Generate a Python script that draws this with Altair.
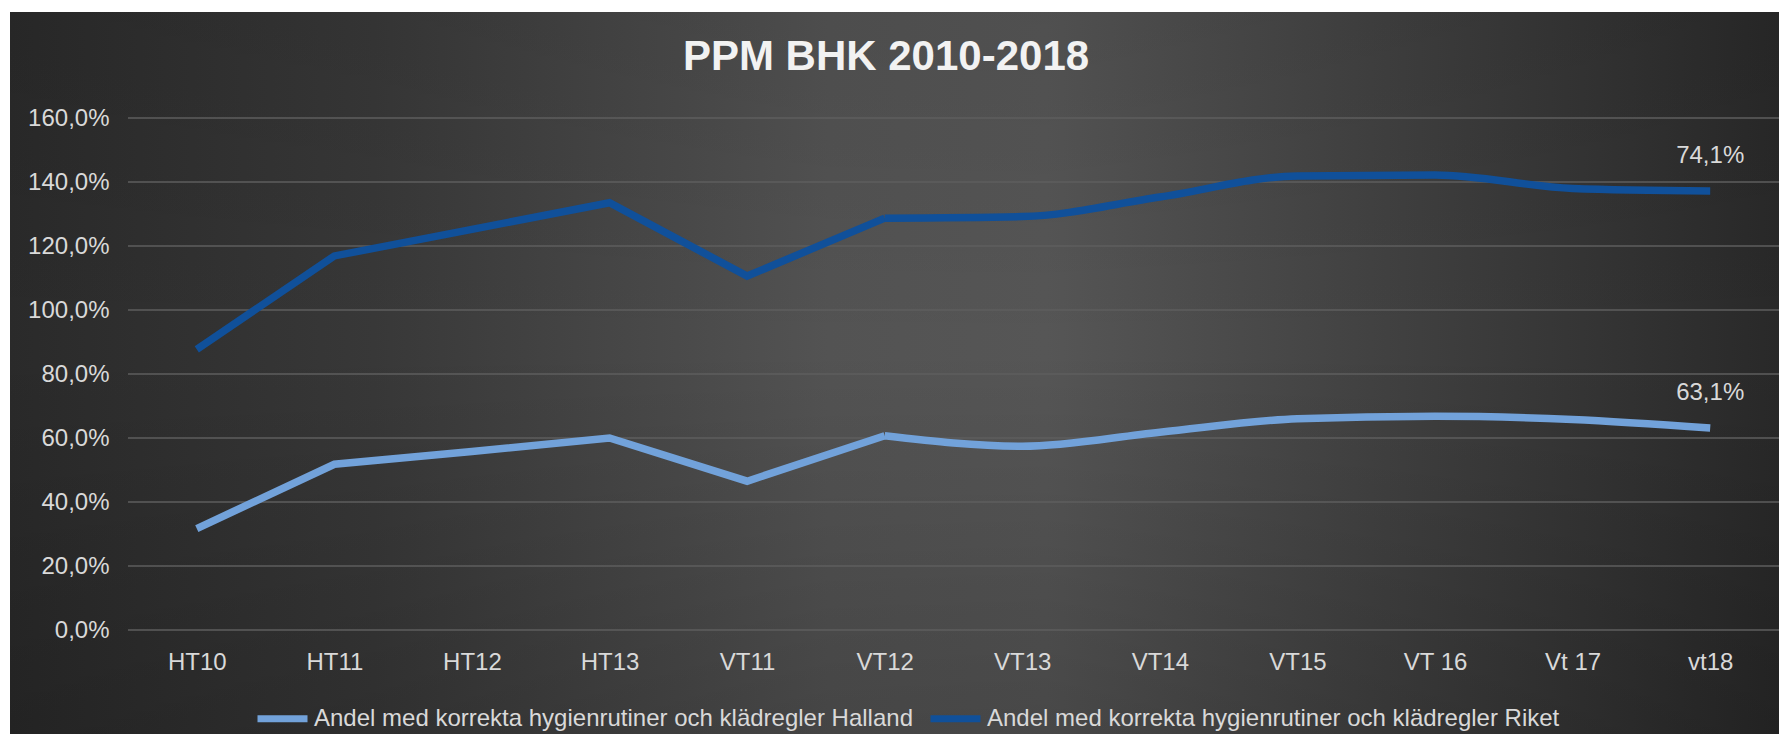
import altair as alt
import pandas as pd

# ---- data ----
TITLE = "PPM BHK 2010-2018"
CATEGORIES = ["HT10", "HT11", "HT12", "HT13", "VT11", "VT12", "VT13", "VT14", "VT15", "VT 16", "Vt 17", "vt18"]
SERIES = [
    "Andel med korrekta hygienrutiner och klädregler Halland",
    "Andel med korrekta hygienrutiner och klädregler Riket",
]
HALLAND = [31.7, 51.8, 55.8, 60.0, 46.5, 60.7, 57.4, 61.8, 66.0, 66.8, 65.8, 63.1]
RIKET = [56.0, 65.1, 69.4, 73.5, 64.1, 68.0, 71.8, 73.5, 75.9, 75.4, 72.2, 74.1]
Y_TICKS = [0, 20, 40, 60, 80, 100, 120, 140, 160]
COLORS = ["#72a2da", "#10509a"]

W, H = 1651, 512
FONT = "Liberation Sans"
TXT = "#d9d9d9"

rows = []
for si, (name, vals) in enumerate(zip(SERIES, [HALLAND, RIKET])):
    for i, (c, v) in enumerate(zip(CATEGORIES, vals)):
        rows.append({"cat": c, "idx": i, "series": name, "sidx": si, "value": v})
df = pd.DataFrame(rows)
ticks_df = pd.DataFrame({"tick": Y_TICKS})
one = pd.DataFrame({"t": [TITLE]})

pct_expr = "replace(format(datum.value, '.1f'), '.', ',') + '%'"

yscale = alt.Scale(domain=[0, 160], nice=False, zero=True)
yaxis = alt.Axis(values=Y_TICKS, labelExpr=pct_expr, grid=False, domain=False, ticks=False,
                 tickSize=0, labelPadding=19, labelFont=FONT, labelFontSize=24,
                 labelColor=TXT, title=None, zindex=1)
xaxis = alt.Axis(labelAngle=0, domain=False, ticks=False, tickSize=0, labelPadding=20,
                 labelFont=FONT, labelFontSize=24, labelColor=TXT, title=None, zindex=1)
xenc = alt.X("cat:N", sort=CATEGORIES, axis=xaxis, scale=alt.Scale(domain=CATEGORIES))
color = alt.Color("series:N", scale=alt.Scale(domain=SERIES, range=COLORS),
                  legend=alt.Legend(orient="none", legendX=126, legendY=572, direction="horizontal",
                                    title=None, symbolType="stroke", symbolSize=2500,
                                    symbolStrokeWidth=7, labelFont=FONT, labelFontSize=24,
                                    labelColor=TXT, labelLimit=2000, labelOffset=3,
                                    columnPadding=3, padding=0))

RECT = dict(x=alt.value(-118), x2=alt.value(1700), y=alt.value(-106), y2=alt.value(640))

bg = alt.Chart(one).mark_rect(
    fill=alt.LinearGradient(gradient="linear", x1=0, x2=1, y1=0, y2=0, stops=[
        alt.GradientStop(color="#2a2a2a", offset=0),
        alt.GradientStop(color="#383838", offset=0.2),
        alt.GradientStop(color="#535353", offset=0.45),
        alt.GradientStop(color="#565656", offset=0.57),
        alt.GradientStop(color="#3a3a3a", offset=0.82),
        alt.GradientStop(color="#262626", offset=1),
    ])
).encode(**RECT)

shade = alt.Chart(one).mark_rect(
    fill=alt.LinearGradient(gradient="linear", x1=0, x2=0, y1=0, y2=1, stops=[
        alt.GradientStop(color="rgba(0,0,0,0.08)", offset=0),
        alt.GradientStop(color="rgba(0,0,0,0)", offset=0.45),
        alt.GradientStop(color="rgba(0,0,0,0.18)", offset=1),
    ])
).encode(**RECT)

title = alt.Chart(one).mark_text(font=FONT, fontSize=42, fontWeight="bold", color="#f2f2f2",
                                 align="center", baseline="middle").encode(
    text="t:N", x=alt.value(758), y=alt.value(-61))

grid = alt.Chart(ticks_df).mark_rule(color="#5e5e5e", strokeWidth=1.5).encode(
    y=alt.Y("tick:Q", scale=yscale, axis=yaxis))

base = alt.Chart(df).transform_stack(
    stack="value", groupby=["cat"], as_=["y0", "y1"], sort=[alt.SortField("sidx", order="ascending")]
)
yenc = alt.Y("y1:Q", scale=yscale, axis=yaxis)

line_lin = base.transform_filter("datum.idx <= 5").mark_line(strokeWidth=7.5, strokeCap="butt",
                                                             strokeJoin="miter").encode(
    x=xenc, y=yenc, color=color, order=alt.Order("idx:Q"))
line_smooth = base.transform_filter("datum.idx >= 5").mark_line(strokeWidth=7.5, strokeCap="butt",
                                                                interpolate="monotone").encode(
    x=xenc, y=yenc, color=color, order=alt.Order("idx:Q"))

labels = base.transform_filter(f"datum.idx == {len(CATEGORIES) - 1}").transform_calculate(
    lab=pct_expr
).mark_text(font=FONT, fontSize=24, color=TXT, dy=-35, align="center", baseline="middle").encode(
    x=xenc, y=yenc, text="lab:N")

chart = alt.layer(bg, shade, title, grid, line_lin, line_smooth, labels).properties(
    width=W, height=H,
    autosize=alt.AutoSizeParams(type="none"),
    padding={"left": 120, "top": 110, "right": 0, "bottom": 104},
    background="white",
).configure_view(stroke=None)

chart.save("out.html", embed_options={"renderer": "svg", "actions": False})
